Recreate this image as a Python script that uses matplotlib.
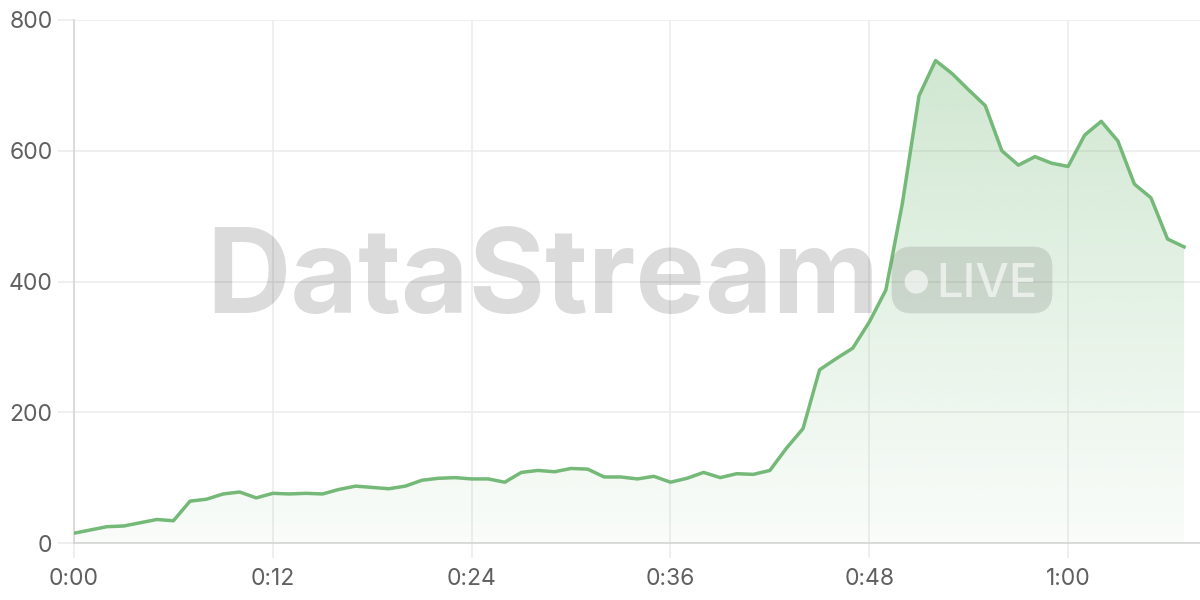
import matplotlib
matplotlib.use("Agg")
import matplotlib.pyplot as plt
import numpy as np
from matplotlib.patches import FancyBboxPatch, Polygon

# viewers per minute
minutes = list(range(68))
viewers = [15, 20, 25, 26, 31, 36, 34, 64, 67, 75,
           78, 69, 76, 75, 76, 75, 82, 87, 85, 83,
           87, 96, 99, 100, 98, 98, 93, 108, 111, 109,
           114, 113, 101, 101, 98, 102, 93, 99, 108, 100,
           106, 105, 111, 145, 175, 265, 282, 298, 338, 387,
           520, 684, 738, 718, 693, 669, 600, 578, 591, 581,
           576, 624, 645, 615, 549, 528, 465, 453]
tick_minutes = [0, 12, 24, 36, 48, 60]
y_ticks = [0, 200, 400, 600, 800]

line_color = "#74b978"
grid_color = "#ebebeb"
axis_color = "#d2d2d2"
label_color = "#606060"

plt.rcParams["font.family"] = ["Inter", "DejaVu Sans"]

fig = plt.figure(figsize=(12, 6), dpi=100)
ax = fig.add_axes([74 / 1200, 57 / 600, 1 - 74 / 1200, 523 / 600])

x = np.array(minutes)
y = np.array(viewers)

# gradient fill under the curve, clipped to the area polygon
grad = np.zeros((256, 2, 4))
grad[..., :3] = matplotlib.colors.to_rgb(line_color)
grad[..., 3] = np.linspace(0.04, 0.36, 256)[:, None]
im = ax.imshow(grad, extent=[x[0], x[-1], 0, 800], origin="lower",
               aspect="auto", zorder=1, interpolation="bicubic")
verts = np.vstack([[x[0], 0], np.column_stack([x, y]), [x[-1], 0]])
clip = Polygon(verts, closed=True, transform=ax.transData,
               facecolor="none", edgecolor="none")
ax.add_patch(clip)
im.set_clip_path(clip)

ax.plot(x, y, color=line_color, lw=2.5, zorder=4)

ax.set_xlim(0, 67.96)
ax.set_ylim(0, 800)
ax.set_xticks(tick_minutes)
ax.set_xticklabels(["%d:%02d" % (m // 60, m % 60) for m in tick_minutes])
ax.set_yticks(y_ticks)

ax.grid(True, color=grid_color, lw=1.1, zorder=0)
ax.set_axisbelow(True)
for s in ["top", "right"]:
    ax.spines[s].set_visible(False)
for s in ["left", "bottom"]:
    ax.spines[s].set_color(axis_color)
    ax.spines[s].set_linewidth(1.1)
ax.tick_params(axis="both", colors=grid_color, labelcolor=label_color,
               labelsize=16.5, width=1.1)
ax.tick_params(axis="y", length=11.5, pad=4)
ax.tick_params(axis="x", length=11, pad=7)

# watermark
fig.text(206 / 1200, 1 - 313 / 600, "DataStream", fontsize=84, fontweight="bold",
         color="black", alpha=0.14, ha="left", va="baseline", zorder=3)
badge = FancyBboxPatch((912 / 1200, 1 - 293 / 600), 120 / 1200, 26 / 600,
                       boxstyle="round,pad=0.017,rounding_size=0.017",
                       transform=fig.transFigure, mutation_aspect=2,
                       facecolor="black", alpha=0.11, edgecolor="none", zorder=3)
fig.patches.append(badge)
fig.text(916 / 1200, 1 - 281 / 600, "\u25CF", fontsize=22, color="white",
         alpha=0.6, ha="center", va="center", zorder=5, family="DejaVu Sans")
fig.text(936 / 1200, 1 - 297 / 600, "LIVE", fontsize=34, fontweight="medium",
         color="white", alpha=0.6, ha="left", va="baseline", zorder=5)

fig.savefig("out.png", dpi=100)
